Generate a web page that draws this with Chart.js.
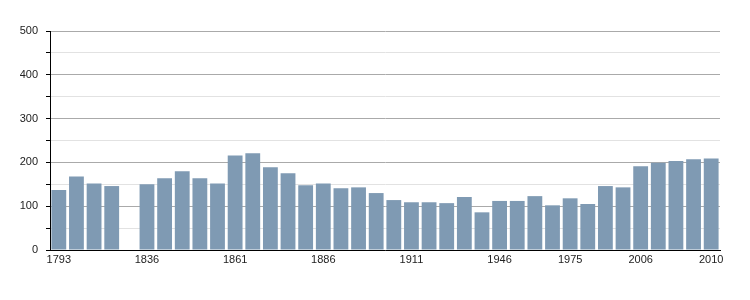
<!DOCTYPE html>
<html>
<head>
<meta charset="utf-8">
<script src="https://cdn.jsdelivr.net/npm/chart.js@4/dist/chart.umd.min.js"></script>
<style>
  html, body { margin: 0; padding: 0; background: #fff; }
  #wrap { width: 750px; height: 300px; position: relative; }
</style>
</head>
<body>
<div id="wrap"><canvas id="c" width="750" height="300"></canvas></div>
<script>
const years = ['1793','1800','1806','1821','1831','1836','1841','1846','1851','1856',
               '1861','1866','1872','1876','1881','1886','1891','1896','1901','1906',
               '1911','1921','1926','1931','1936','1946','1954','1962','1968','1975',
               '1982','1990','1999','2006','2007','2008','2009','2010'];
const population = [137, 168, 152, 146, null, 150, 164, 180, 164, 152,
                    216, 221, 189, 175, 148, 152, 141, 143, 130, 114,
                    109, 109, 107, 121, 86, 112, 112, 123, 102, 118,
                    105, 146, 143, 191, 199, 203, 207, 209];
const shownYears = ['1793','1836','1861','1886','1911','1946','1975','2006','2010'];
const yTickLabels = [0, 100, 200, 300, 400, 500];

new Chart(document.getElementById('c'), {
  type: 'bar',
  data: {
    labels: years,
    datasets: [{
      data: population,
      backgroundColor: '#7f9ab3',
      borderWidth: 0,
      barPercentage: 0.84,
      categoryPercentage: 1.0
    }]
  },
  options: {
    responsive: false,
    animation: false,
    layout: { padding: { top: 31, right: 30, left: 0, bottom: 0 } },
    plugins: { legend: { display: false }, tooltip: { enabled: false } },
    scales: {
      x: {
        grid: { display: false, drawTicks: false, tickLength: 0 },
        border: { display: true, color: '#000', width: 1 },
        ticks: {
          autoSkip: false,
          maxRotation: 0,
          padding: 3,
          color: '#222',
          font: { family: 'Liberation Sans', size: 11 },
          callback: function (v, i) {
            const y = years[i];
            return shownYears.includes(y) ? y : '';
          }
        },
        afterFit: function (s) { s.height = 50; }
      },
      y: {
        min: 0,
        max: 500,
        ticks: {
          stepSize: 50,
          padding: 8,
          color: '#222',
          font: { family: 'Liberation Sans', size: 11 },
          callback: function (v) { return yTickLabels.includes(v) ? String(v) : ''; }
        },
        grid: {
          color: function (c) { return (c.tick && c.tick.value % 100 === 0) ? '#aaaaaa' : '#e2e2e2'; },
          tickColor: '#000',
          tickLength: 4,
          lineWidth: 1
        },
        border: { display: true, color: '#000', width: 1 },
        afterFit: function (s) { s.width = 50; }
      }
    }
  }
});
</script>
</body>
</html>
